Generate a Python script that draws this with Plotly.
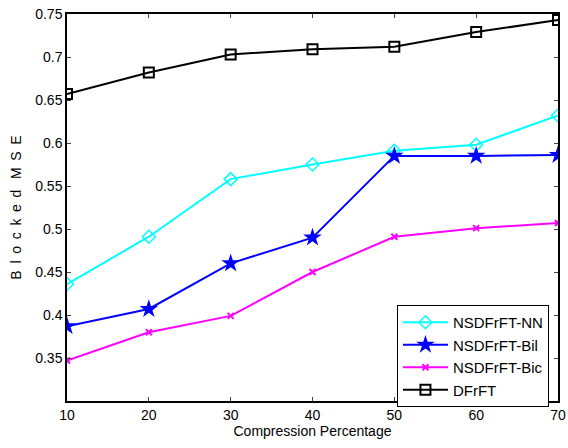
import plotly.graph_objects as go

x = [10, 20, 30, 40, 50, 60, 70]
nn = [0.436, 0.491, 0.558, 0.575, 0.591, 0.598, 0.632]
bil = [0.387, 0.407, 0.460, 0.490, 0.585, 0.585, 0.586]
bic = [0.347, 0.380, 0.399, 0.450, 0.491, 0.501, 0.507]
dfrft = [0.657, 0.682, 0.703, 0.709, 0.712, 0.729, 0.743]
yticks = [0.35, 0.4, 0.45, 0.5, 0.55, 0.6, 0.65, 0.7, 0.75]

sp = "\u00a0\u2009"
ytitle = sp.join("Blocked") + sp + "\u00a0" + sp.join("MSE")

fig = go.Figure()
fig.add_trace(go.Scatter(x=x, y=nn, name="NSDFrFT-NN", mode="lines+markers",
                         line=dict(color="#00ffff", width=2),
                         marker=dict(symbol="diamond-open", size=10, color="#00ffff", line=dict(width=1.5))))
fig.add_trace(go.Scatter(x=x, y=bil, name="NSDFrFT-Bil", mode="lines+markers",
                         line=dict(color="#0000ff", width=2),
                         marker=dict(symbol="star", size=14, color="#0000ff")))
fig.add_trace(go.Scatter(x=x, y=bic, name="NSDFrFT-Bic", mode="lines+markers",
                         line=dict(color="#ff00ff", width=2),
                         marker=dict(symbol="x-thin-open", size=6, color="#ff00ff", line=dict(width=2, color="#ff00ff"))))
fig.add_trace(go.Scatter(x=x, y=dfrft, name="DFrFT", mode="lines+markers",
                         line=dict(color="#000000", width=2),
                         marker=dict(symbol="square-open", size=10, color="#000000", line=dict(width=2))))

fig.update_layout(
    width=568, height=448,
    margin=dict(l=67, r=10, t=14, b=47),
    paper_bgcolor="white", plot_bgcolor="white",
    font=dict(family="Liberation Sans, Arial", size=14, color="black"),
    xaxis=dict(range=[10, 70], tickvals=x, ticks="inside", ticklen=4,
               showline=True, linecolor="black", linewidth=1.5, mirror="ticks",
               showgrid=False, zeroline=False, automargin=False,
               title=dict(text="Compression Percentage", standoff=2, font=dict(size=14))),
    yaxis=dict(range=[0.3, 0.75], tickvals=yticks, ticktext=[f"{v:g}" for v in yticks],
               ticks="inside", ticklen=4,
               showline=True, linecolor="black", linewidth=1.5, mirror="ticks",
               showgrid=False, zeroline=False, automargin=False,
               title=dict(text=ytitle, standoff=10, font=dict(size=14))),
    legend=dict(x=0.672, y=0.248, xanchor="left", yanchor="top",
                bgcolor="white", bordercolor="black", borderwidth=1,
                font=dict(size=15), tracegroupgap=0, itemwidth=45),
    showlegend=True,
)
fig.write_html("out.html", config={"displayModeBar": False},
               post_script="document.body.style.margin='0';")
